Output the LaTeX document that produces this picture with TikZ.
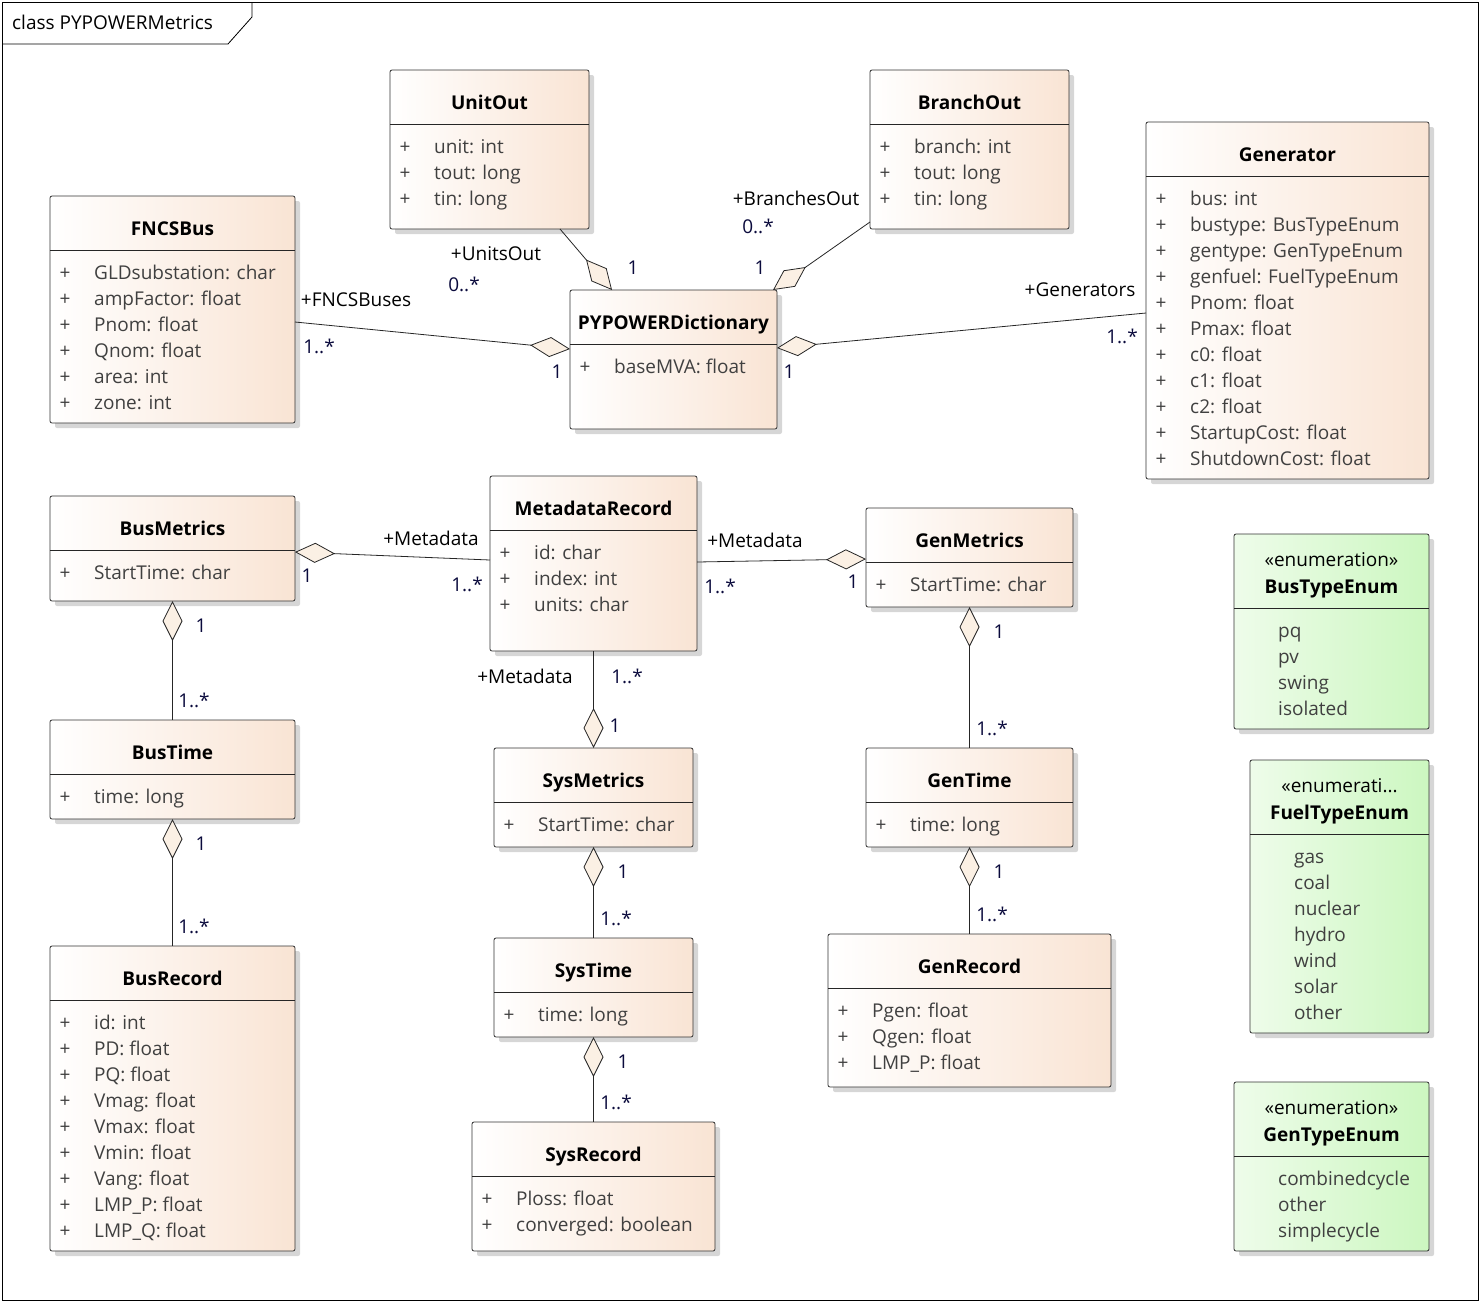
\documentclass[tikz,border=0pt]{standalone}
\usepackage{fontspec}
\setmainfont{Open Sans}
\usetikzlibrary{arrows.meta,calc,shadows}

\definecolor{peach}{RGB}{249,228,212}
\definecolor{mint}{RGB}{204,247,192}
\definecolor{mintlight}{RGB}{238,252,234}
\definecolor{cream}{RGB}{251,240,228}
\definecolor{attrgrey}{RGB}{64,64,64}
\definecolor{multnavy}{RGB}{10,10,60}

% class box: name, x, y (top), width, height, title, attributes
\newcommand{\umlclass}[7]{%
  \node[clsbox,minimum width=#4,minimum height=#5] (#1) at (#2,#3) {};
  \node[clstitle] (#1-title) at ($(#1.north)+(0,39.5)$) {#6};
  \draw[clsline] ($(#1.north west)+(0,54)$) -- ($(#1.north east)+(0,54)$);
  \foreach \attr [count=\k] in {#7} {
    \node[clsvis] (#1-v\k) at ($(#1.north west)+(15,57.5+26*\k)$) {+};
    \node[clsattr] (#1-a\k) at ($(#1.north west)+(44,57.5+26*\k)$) {\attr};
  }
}
% enumeration box: name, x, y (top), width, height, stereotype, title, literals
\newcommand{\umlenum}[8]{%
  \node[enumbox,minimum width=#4,minimum height=#5] (#1) at (#2,#3) {};
  \node[clsstereo] (#1-stereo) at ($(#1.north)+(0,32.5)$) {#6};
  \node[clstitle] (#1-title) at ($(#1.north)+(0,59.5)$) {#7};
  \draw[clsline] ($(#1.north west)+(0,74)$) -- ($(#1.north east)+(0,74)$);
  \foreach \lit [count=\k] in {#8} {
    \node[clsattr] (#1-l\k) at ($(#1.north west)+(44,77.5+26*\k)$) {\lit};
  }
}

\begin{document}
\begin{tikzpicture}[x=1pt,y=-1pt,
  every node/.append style={font=\fontsize{19}{22}\selectfont},
  clsbox/.style={draw=black!80,line width=0.8pt,rounded corners=2pt,anchor=north west,
    left color=white,right color=peach,inner sep=0pt,outer sep=0pt,
    drop shadow={shadow xshift=5pt,shadow yshift=-5pt,fill=black!16,opacity=1}},
  enumbox/.style={clsbox,left color=mintlight,right color=mint},
  clsline/.style={draw=black!85,line width=0.8pt},
  clstitle/.style={anchor=base,inner sep=0pt,font=\fontsize{19}{22}\selectfont\bfseries},
  clsstereo/.style={anchor=base,inner sep=0pt},
  clsvis/.style={anchor=base,inner sep=0pt,text=attrgrey},
  clsattr/.style={anchor=base west,inner sep=0pt,text=attrgrey},
  role/.style={inner sep=0pt},
  mult/.style={inner sep=0pt,text=multnavy},
  aggr/.style={{Diamond[length=40pt,width=20pt,fill=cream]}-,draw=black!85,line width=0.8pt}]

  % frame
  \useasboundingbox (0,0) rectangle (1480,1302);
  \draw[line width=0.8pt] (2,2) rectangle (1478,1300);
  \draw[line width=0.8pt] (2,44) -- (228,44) -- (252,17) -- (252,2);
  \node[anchor=base west,inner sep=0pt] (frame-title) at (12,29) {class PYPOWERMetrics};

  % classes
  \umlclass{unitout}{390}{70}{199}{159}{UnitOut}{unit: int, tout: long, tin: long}
  \umlclass{branchout}{870}{70}{199}{159}{BranchOut}{branch: int, tout: long, tin: long}
  \umlclass{generator}{1146}{122}{283}{357}{Generator}{bus: int, bustype: BusTypeEnum,
    gentype: GenTypeEnum, genfuel: FuelTypeEnum, Pnom: float, Pmax: float, c0: float,
    c1: float, c2: float, StartupCost: float, ShutdownCost: float}
  \umlclass{fncsbus}{50}{196}{245}{227}{FNCSBus}{GLDsubstation: char, ampFactor: float,
    Pnom: float, Qnom: float, area: int, zone: int}
  \umlclass{dict}{570}{290}{207}{139}{PYPOWERDictionary}{baseMVA: float}
  \umlclass{busmetrics}{50}{496}{245}{105}{BusMetrics}{StartTime: char}
  \umlclass{metadata}{490}{476}{207}{175}{MetadataRecord}{id: char, index: int, units: char}
  \umlclass{genmetrics}{866}{508}{207}{99}{GenMetrics}{StartTime: char}
  \umlclass{bustime}{50}{720}{245}{99}{BusTime}{time: long}
  \umlclass{sysmetrics}{494}{748}{199}{99}{SysMetrics}{StartTime: char}
  \umlclass{gentime}{866}{748}{207}{99}{GenTime}{time: long}
  \umlclass{busrecord}{50}{946}{245}{305}{BusRecord}{id: int, PD: float, PQ: float,
    Vmag: float, Vmax: float, Vmin: float, Vang: float, LMP\_P: float, LMP\_Q: float}
  \umlclass{systime}{494}{938}{199}{99}{SysTime}{time: long}
  \umlclass{genrecord}{828}{934}{283}{153}{GenRecord}{Pgen: float, Qgen: float, LMP\_P: float}
  \umlclass{sysrecord}{472}{1122}{243}{129}{SysRecord}{Ploss: float, converged: boolean}

  % enumerations
  \umlenum{bustype}{1234}{534}{195}{195}{«enumeration»}{BusTypeEnum}{pq, pv, swing, isolated}
  \umlenum{fueltype}{1250}{760}{179}{273}{«enumerati...}{FuelTypeEnum}{gas, coal, nuclear,
    hydro, wind, solar, other}
  \umlenum{gentype}{1234}{1082}{195}{169}{«enumeration»}{GenTypeEnum}{combinedcycle, other,
    simplecycle}

  % aggregations
  \draw[aggr] ($(dict.west)+(0,-10.5)$) -- ($(fncsbus.east)+(0,12.5)$);
  \draw[aggr] ($(dict.east)+(0,-11.5)$) -- ($(generator.west)+(0,12.5)$);
  \draw[aggr] ($(dict.north)+(-61.5,0)$) -- ($(unitout.south)+(70.5,0)$);
  \draw[aggr] ($(dict.north)+(99.5,0)$) -- ($(branchout.south west)+(0,-7)$);
  \draw[aggr] ($(busmetrics.east)+(0,3.5)$) -- ($(metadata.west)+(0,-3.5)$);
  \draw[aggr] ($(genmetrics.west)+(0,1.5)$) -- ($(metadata.east)+(0,-1.5)$);
  \draw[aggr] (sysmetrics.north) -- (metadata.south);
  \draw[aggr] (busmetrics.south) -- (bustime.north);
  \draw[aggr] (bustime.south) -- (busrecord.north);
  \draw[aggr] (genmetrics.south) -- (gentime.north);
  \draw[aggr] (gentime.south) -- (genrecord.north);
  \draw[aggr] (sysmetrics.south) -- (systime.north);
  \draw[aggr] (systime.south) -- (sysrecord.north);

  % roles and multiplicities
  \node[role] (unitout-role) at (496,254) {+UnitsOut};
  \node[mult] (unitout-m) at (464,284) {0..*};
  \node[mult] (unitout-d) at (633,268) {1};
  \node[role] (branchout-role) at (796,198) {+BranchesOut};
  \node[mult] (branchout-m) at (758,226) {0..*};
  \node[mult] (branchout-d) at (760,268) {1};
  \node[role] (fncsbus-role) at (356,300) {+FNCSBuses};
  \node[mult] (fncsbus-m) at (319,346) {1..*};
  \node[mult] (fncsbus-d) at (557,372) {1};
  \node[role] (generator-role) at (1080,290) {+Generators};
  \node[mult] (generator-m) at (1122,336) {1..*};
  \node[mult] (generator-d) at (789,372) {1};
  \node[role] (busmeta-role) at (431,538) {+Metadata};
  \node[mult] (busmeta-m) at (467,584) {1..*};
  \node[mult] (busmeta-d) at (307,576) {1};
  \node[role] (genmeta-role) at (755,540) {+Metadata};
  \node[mult] (genmeta-m) at (720,586) {1..*};
  \node[mult] (genmeta-d) at (853,582) {1};
  \node[role] (sysmeta-role) at (525,676) {+Metadata};
  \node[mult] (sysmeta-m) at (627,676) {1..*};
  \node[mult] (sysmeta-d) at (615,726) {1};
  \node[mult] (bustime-d) at (201,626) {1};
  \node[mult] (bustime-m) at (194,700) {1..*};
  \node[mult] (busrecord-d) at (201,844) {1};
  \node[mult] (busrecord-m) at (194,926) {1..*};
  \node[mult] (gentime-d) at (999,632) {1};
  \node[mult] (gentime-m) at (992,728) {1..*};
  \node[mult] (genrecord-d) at (999,872) {1};
  \node[mult] (genrecord-m) at (992,914) {1..*};
  \node[mult] (systime-d) at (623,872) {1};
  \node[mult] (systime-m) at (616,918) {1..*};
  \node[mult] (sysrecord-d) at (623,1062) {1};
  \node[mult] (sysrecord-m) at (616,1102) {1..*};
\end{tikzpicture}
\end{document}
